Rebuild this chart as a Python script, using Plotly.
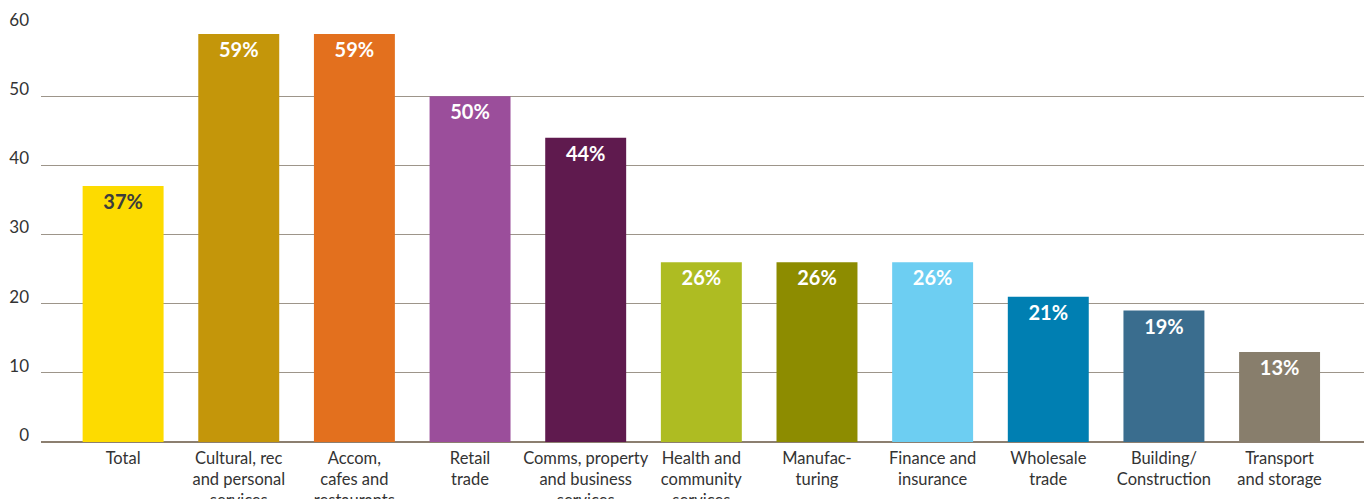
import plotly.graph_objects as go

# Share of businesses by industry (%)
categories = [
    "Total",
    "Cultural, rec<br>and personal<br>services",
    "Accom,<br>cafes and<br>restaurants",
    "Retail<br>trade",
    "Comms, property<br>and business<br>services",
    "Health and<br>community<br>services",
    "Manufac-<br>turing",
    "Finance and<br>insurance",
    "Wholesale<br>trade",
    "Building/<br>Construction",
    "Transport<br>and storage",
]
values = [37, 59, 59, 50, 44, 26, 26, 26, 21, 19, 13]
bar_colors = [
    "#FDDB00", "#C4960A", "#E3701E", "#9B4E9B", "#5F1A4E", "#AEBC22",
    "#8D8C00", "#6DCEF2", "#007FB2", "#3A6D8E", "#887E6C",
]
label_colors = ["#3c3c3c"] + ["#ffffff"] * 10
y_ticks = [0, 10, 20, 30, 40, 50, 60]

font_family = "Lato, 'Open Sans', sans-serif"

fig = go.Figure(
    go.Bar(
        x=categories,
        y=values,
        marker=dict(color=bar_colors, line=dict(width=0)),
        width=0.7,
        text=[f"{v}%" for v in values],
        textposition="inside",
        insidetextanchor="end",
        textangle=0,
        constraintext="none",
        textfont=dict(family=font_family, size=20, color=label_colors, weight="bold"),
        hoverinfo="skip",
    )
)

fig.update_layout(
    width=1368,
    height=499,
    margin=dict(l=41, r=4, t=27, b=57),
    paper_bgcolor="white",
    plot_bgcolor="white",
    showlegend=False,
    bargap=0.3,
    font=dict(family=font_family, size=16, color="#333333"),
)

fig.update_xaxes(
    type="category",
    range=[-0.71, 10.73],
    showgrid=False,
    showline=False,
    ticks="",
    ticklabelstandoff=4,
    tickfont=dict(size=16.5, color="#333333"),
    automargin=False,
)

fig.update_yaxes(
    range=[0, 60],
    tickvals=y_ticks,
    showgrid=True,
    gridcolor="#9d958a",
    gridwidth=1,
    zeroline=True,
    zerolinecolor="#8c7f70",
    zerolinewidth=1.5,
    showline=False,
    ticks="",
    ticklabelshift=-7,
    ticklabelstandoff=11,
    tickfont=dict(size=17, color="#333333"),
    automargin=False,
)

fig.write_html("out.html")
